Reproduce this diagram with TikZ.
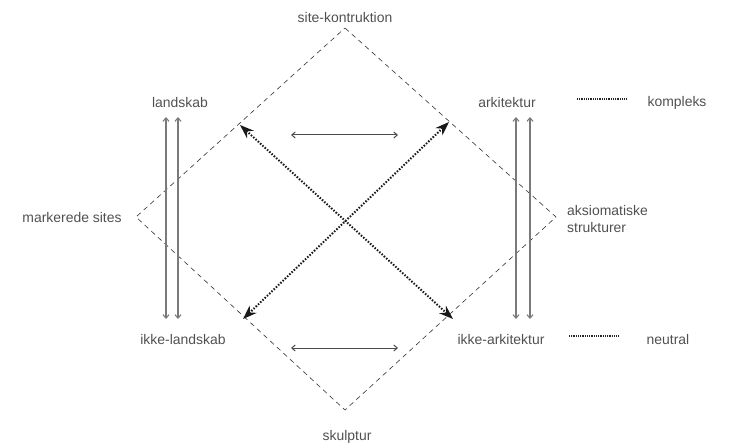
\documentclass[tikz,border=0pt]{standalone}
\usepackage{fontspec}
\setmainfont{Liberation Sans}
\usetikzlibrary{arrows.meta}

\definecolor{labelgray}{HTML}{505050}
\definecolor{pairgray}{HTML}{7A7A7A}

\tikzset{
  lbl/.style={text=labelgray, font=\fontsize{14}{17.5}\selectfont, inner sep=1pt},
  frame/.style={dash pattern=on 5bp off 4bp, line width=0.6bp, black!80},
  cross/.style={{Stealth[length=14bp,width=10bp]}-{Stealth[length=14bp,width=10bp]},
    line width=2bp, dash pattern=on 1.5bp off 1.6bp, black!90},
  pair/.style={{Straight Barb[length=3.5bp,width=6bp]}-{Straight Barb[length=3.5bp,width=6bp]},
    line width=1.1bp, pairgray},
  link/.style={{Straight Barb[length=3.5bp,width=6bp]}-{Straight Barb[length=3.5bp,width=6bp]},
    line width=1bp, black!70},
  legend/.style={line width=1.6bp, dash pattern=on 0.9bp off 0.9bp, black!85}
}

\begin{document}
\begin{tikzpicture}[x=1bp,y=-1bp]
  \useasboundingbox (0,0) rectangle (738,448);

  % corners of the dashed square
  \coordinate (top) at (345,28);
  \coordinate (lft) at (136,217);
  \coordinate (bot) at (345,410);
  \coordinate (rgt) at (556,217);
  \draw[frame] (top) -- (rgt) -- (bot) -- (lft) -- cycle;

  % labels
  \node[lbl] (sitek) at (345,18) {site-kontruktion};
  \node[lbl] (landskab) at (180,103) {landskab};
  \node[lbl] (arkitektur) at (507,103) {arkitektur};
  \node[lbl] (kompleks) at (677,103) {kompleks};
  \node[lbl] (markerede) at (72,218) {markerede sites};
  \node[lbl, align=left, anchor=west] (aksiom) at (566,219) {aksiomatiske\\strukturer};
  \node[lbl] (ikkeland) at (183,340) {ikke-landskab};
  \node[lbl] (ikkeark) at (501,340) {ikke-arkitektur};
  \node[lbl] (neutral) at (668,340) {neutral};
  \node[lbl] (skulptur) at (347,437) {skulptur};

  % ends of the crossing arrows, on the square
  \coordinate (ul) at (240,125);
  \coordinate (ur) at (449,122);
  \coordinate (ll) at (243,319);
  \coordinate (lr) at (453,319);
  \draw[cross] (ul) -- (lr);
  \draw[cross] (ur) -- (ll);

  % horizontal arrows
  \coordinate (h1a) at (291,135);
  \coordinate (h1b) at (398,135);
  \coordinate (h2a) at (291,348);
  \coordinate (h2b) at (398,348);
  \draw[link] (h1a) -- (h1b);
  \draw[link] (h2a) -- (h2b);

  % vertical pairs
  \foreach \x in {166,178,516,530}{
    \coordinate (va\x) at (\x,117);
    \coordinate (vb\x) at (\x,319);
    \draw[pair] (va\x) -- (vb\x);
  }

  % legend lines
  \coordinate (k1) at (577,99);
  \coordinate (k2) at (626,99);
  \coordinate (n1) at (569,336);
  \coordinate (n2) at (618,336);
  \draw[legend] (k1) -- (k2);
  \draw[legend] (n1) -- (n2);
\end{tikzpicture}
\end{document}
